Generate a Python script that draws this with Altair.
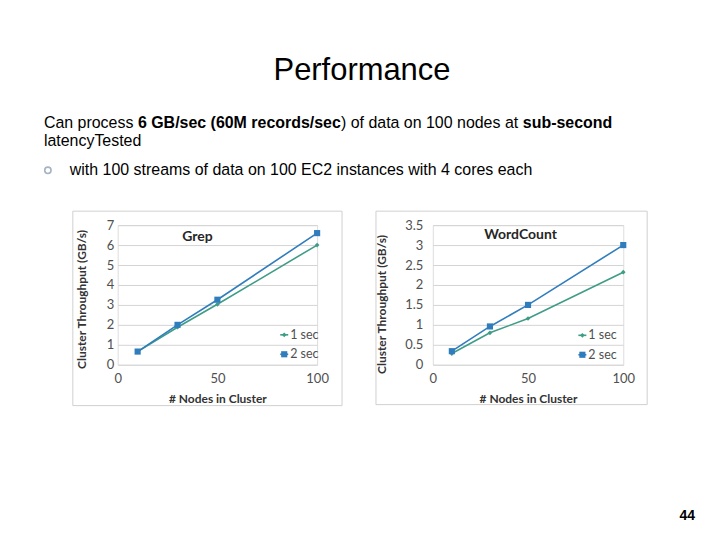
import altair as alt
import pandas as pd

# ---- data ----
nodes = [10, 30, 50, 100]
series_names = ["1 sec", "2 sec"]
grep_1s = [0.66, 1.88, 3.03, 6.0]
grep_2s = [0.66, 2.0, 3.26, 6.6]
wc_1s = [0.28, 0.8, 1.16, 2.32]
wc_2s = [0.34, 0.96, 1.5, 3.0]
grep_yticks = [0, 1, 2, 3, 4, 5, 6, 7]
wc_yticks = [0, 0.5, 1, 1.5, 2, 2.5, 3, 3.5]
x_ticks = [0, 50, 100]

title_text = "Performance"
body_segments = [
    ("Can process", "normal"),
    ("6 GB/sec (60M records/sec", "bold"),
    (") of data on 100 nodes at", "normal"),
    ("sub-second", "bold"),
]
body_line2 = "latencyTested"
bullet_text = "with 100 streams of data on 100 EC2 instances with 4 cores each"
page_number = "44"

COLORS = ["#3f9c87", "#2f7dbd"]
SHAPES = ["diamond", "square"]
SIZES = [22, 38]
GRID = "#d4d4d4"
FRAME = "#d0d0d0"
CFONT = "Lato"
SFONT = "Liberation Sans"
AXIS_STYLE = dict(
    labelFont=CFONT, labelFontSize=13, labelColor="#505050",
    titleFont=CFONT, titleFontSize=12, titleFontWeight="bold", titleColor="#333333",
    gridColor=GRID, gridWidth=1, domain=False, ticks=False, labelFlush=False,
)


def one(text=""):
    return pd.DataFrame({"t": [text]})


def label(text, x, y, size, weight="normal", align="left", color="#000000", font=SFONT, baseline="alphabetic"):
    return alt.Chart(one(text)).mark_text(
        align=align, baseline=baseline, fontSize=size, fontWeight=weight,
        color=color, font=font
    ).encode(x=alt.value(x), y=alt.value(y), text="t:N")


def box(x0, x1, y0, y1, stroke=None):
    kw = dict(fillOpacity=0, strokeWidth=1)
    if stroke:
        kw["stroke"] = stroke
    else:
        kw["opacity"] = 0
    return alt.Chart(one()).mark_rect(**kw).encode(
        x=alt.value(x0), x2=alt.value(x1), y=alt.value(y0), y2=alt.value(y1))


def panel(s1, s2, yticks, width, height, name, title_xy, ylab_pad, ytitle_x, ytitle_y,
          frame, legend, yfmt):
    df = pd.DataFrame({
        "nodes": nodes * 2,
        "value": s1 + s2,
        "series": [series_names[0]] * len(nodes) + [series_names[1]] * len(nodes),
    })
    xaxis = alt.Axis(values=x_ticks, title="# Nodes in Cluster", grid=False,
                     labelPadding=8, titleY=38, titleBaseline="alphabetic", **AXIS_STYLE)
    yaxis = alt.Axis(values=yticks, title="Cluster Throughput (GB/s)", grid=True,
                     labelPadding=ylab_pad, format=yfmt,
                     titleX=ytitle_x, titleY=ytitle_y, titleBaseline="alphabetic", **AXIS_STYLE)
    base = alt.Chart(df).encode(
        x=alt.X("nodes:Q", scale=alt.Scale(domain=[0, 100], nice=False), axis=xaxis),
        y=alt.Y("value:Q", scale=alt.Scale(domain=[yticks[0], yticks[-1]], nice=False), axis=yaxis),
        color=alt.Color("series:N", scale=alt.Scale(domain=series_names, range=COLORS), legend=None),
        detail="series:N",
    )
    layers = [box(*frame, stroke=FRAME), base.mark_line(strokeWidth=1.6)]
    for i, s in enumerate(series_names):
        layers.append(
            base.transform_filter(alt.datum.series == s).mark_point(
                filled=True, opacity=1, shape=SHAPES[i], size=SIZES[i]))
    layers.append(label(name, title_xy[0], title_xy[1], 14, "bold", "center", "#262626", CFONT, "middle"))
    lx0, lx1, lm, lt, ly = legend
    for i, s in enumerate(series_names):
        layers.append(alt.Chart(one()).mark_rule(color=COLORS[i], strokeWidth=1.6).encode(
            x=alt.value(lx0), x2=alt.value(lx1), y=alt.value(ly[i])))
        layers.append(alt.Chart(one()).mark_point(
            filled=True, opacity=1, shape=SHAPES[i], size=SIZES[i], color=COLORS[i]).encode(
            x=alt.value(lm), y=alt.value(ly[i])))
        layers.append(label(s, lt, ly[i], 12.5, "normal", "left", "#505050", CFONT, "middle"))
    return layers, width, height


# Panel 1 (Grep): plot area origin at page (117, 224)
g_layers, gw, gh = panel(
    grep_1s, grep_2s, grep_yticks, 200, 140, "Grep", (80, 12), 4, -32, 74,
    (-45, 225, -14, 181), (163, 171, 167, 173, [110, 129.5]), "d")

# slide texts (drawn relative to panel 1's plot origin)
slide = [box(-109, 595, -216, 308)]  # page extent
slide.append(label(title_text, 245, -146, 31, "normal", "center"))
xs = [-74, 20.3, 223.9, 406.3]
for (txt, w), x in zip(body_segments, xs):
    slide.append(label(txt, x, -97.5, 16, w))
slide.append(label(body_line2, -74, -79.5, 16))
slide.append(alt.Chart(one()).mark_point(shape="circle", filled=False, size=40,
                                         stroke="#7f93ad", strokeWidth=1.6).encode(
    x=alt.value(-70), y=alt.value(-55)))
slide.append(label(bullet_text, -48, -50, 16))
slide.append(label(page_number, 579, 296, 14, "bold", "right"))

c1 = alt.layer(*(slide + g_layers)).properties(width=gw, height=gh)

# Panel 2 (WordCount): plot area origin at page (433, 224)
w_layers, ww, wh = panel(
    wc_1s, wc_2s, wc_yticks, 191, 140, "WordCount", (88, 10), 10, -47, 79,
    (-57, 215, -14, 180), (146, 154, 150, 156, [110.5, 130]), "~g")
c2 = alt.layer(*w_layers).properties(width=ww, height=wh)

chart = alt.hconcat(c1, c2, spacing=116, bounds="flush", padding=0).configure_view(
    stroke=None
).configure(background="white")

chart.save("out.html", embed_options={"renderer": "svg", "actions": False})
